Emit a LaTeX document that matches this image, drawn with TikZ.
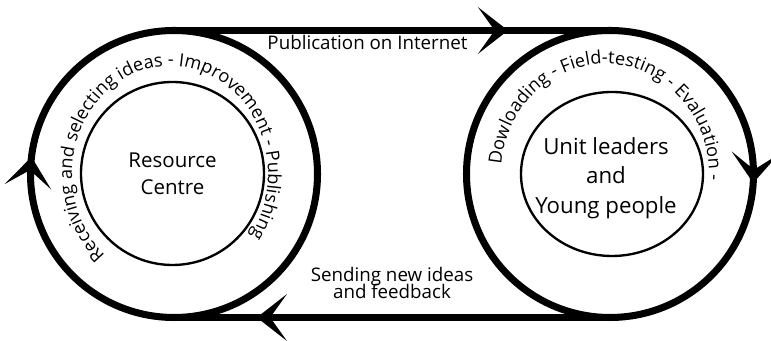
\documentclass[tikz,border=0pt]{standalone}
\usepackage{fontspec}
\setmainfont{Open Sans}
\usetikzlibrary{arrows.meta,decorations.markings,decorations.text,calc}

\newcommand\lblfont{\fontsize{16}{14.5}\selectfont\lineskiplimit=-20pt\relax}

\tikzset{
  bigtip/.tip={Stealth[length=0.9cm,width=1.4cm,inset=0.5cm]},
  ring/.style={line width=6pt},
  core/.style={line width=2pt},
  tipat/.style={postaction={decorate},
    decoration={markings,mark=at position #1 with {\arrow{bigtip}}}},
  hub/.style={circle,minimum size=8.61cm,outer sep=0pt,inner sep=0pt},
  who/.style 2 args={align=center,font=\fontsize{#1}{#2}\selectfont},
  lbl/.style={align=center,font=\lblfont},
  around/.style={decorate,decoration={text along path,text align=center,
    text={|\fontsize{15.5}{18}\selectfont|#1}}}
}

\begin{document}
\begin{tikzpicture}[x=0.03cm,y=0.03cm]
\useasboundingbox (0,0) rectangle (771,341);
\node[hub] (lring) at (174,167) {};
\node[hub] (rring) at (610,167) {};
\draw[ring,tipat=0.769] (lring.north) arc[start angle=90,delta angle=-360,radius=143.5];
\draw[ring,tipat=0.26] (rring.north) arc[start angle=90,delta angle=-360,radius=143.5];
\draw[ring,tipat=0.766] (lring.north) -- (rring.north);
\draw[ring,tipat=0.81] (rring.south) -- (lring.south);

\node[who={17.5}{23}] (centre) at (172.5,167) {Resource\\Centre};
\node[who={19}{25}] (users) at (606,163) {Unit leaders\\and\\Young people};
\draw[core] (172.5,167.5) circle[radius=91.5];
\draw[core] (612,167) ellipse[x radius=91,y radius=82];

\path[around={Receiving and selecting ideas - Improvement - Publishing}]
  ($(170,167)+(237:98 and 108)$) arc[start angle=237,end angle=-43,x radius=98,y radius=108];
\path[around={Dowloading - Field-testing - Evaluation -}]
  ($(605,167)+(186:104 and 110)$) arc[start angle=186,end angle=-14,x radius=104,y radius=110];

\node[lbl,anchor=base] (pub) at (367.5,291) {Publication on Internet};
\node[lbl] (send) at (392,58.5) {Sending new ideas\\and feedback};
\end{tikzpicture}
\end{document}
